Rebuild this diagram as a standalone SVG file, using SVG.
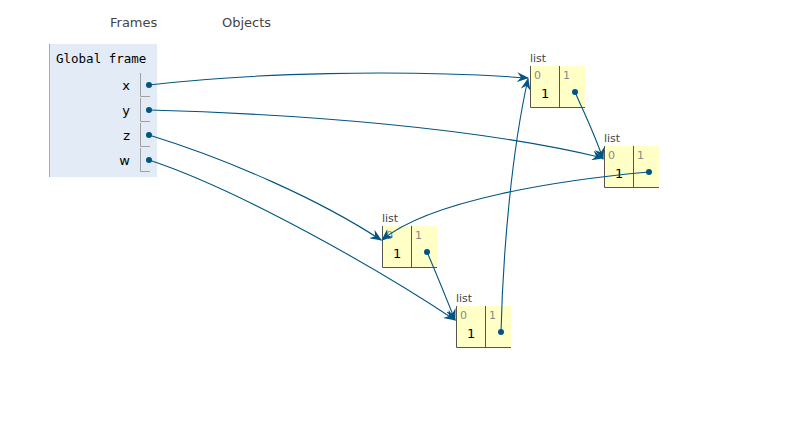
<svg xmlns="http://www.w3.org/2000/svg" width="806" height="445" viewBox="0 0 806 445">
<style>
.hdr{font-family:"DejaVu Sans",Verdana,sans-serif;font-size:13px;fill:#444}
.fname{font-family:"DejaVu Sans Mono",monospace;font-size:12.5px;fill:#000}
.var{font-family:"DejaVu Sans",Verdana,sans-serif;font-size:13px;fill:#000;text-anchor:end}
.cellb{stroke:#a0a0a0;stroke-width:1;fill:none}
.lbl{font-family:"DejaVu Sans",Verdana,sans-serif;font-size:11px;fill:#444}
.idx{font-family:"DejaVu Sans",Verdana,sans-serif;font-size:11px;fill:#888}
.val{font-family:"DejaVu Sans",Verdana,sans-serif;font-size:13px;fill:#000}
.box{fill:#ffffc6}
.bl{stroke:#555;stroke-width:1;fill:none}
.dot{fill:#005583}
.conn path{stroke:#005583;stroke-width:1.1;fill:none;marker-end:url(#ah)}
</style>
<defs>
<marker id="ah" viewBox="0 0 12 10" refX="11" refY="5" markerWidth="12" markerHeight="10" markerUnits="userSpaceOnUse" orient="auto">
<path d="M0,0 L12,5 L0,10 L4,5 z" fill="#005583"/>
</marker>
</defs>
<rect width="806" height="445" fill="#fff"/>
<text class="hdr" x="110" y="27">Frames</text>
<text class="hdr" x="222" y="27">Objects</text>
<g id="global-frame">
<rect x="49" y="44" width="108" height="133" fill="#e2ebf6"/>
<line x1="49.5" y1="44" x2="49.5" y2="177" stroke="#aaa" stroke-width="1"/>
<text class="fname" x="56" y="63">Global frame</text>
<text class="var" x="130" y="90">x</text>
<path class="cellb" d="M140.5,73 V96.5 H150"/>
<circle class="dot" cx="149" cy="85" r="3"/>
<text class="var" x="130" y="115">y</text>
<path class="cellb" d="M140.5,98 V121.5 H150"/>
<circle class="dot" cx="149" cy="110" r="3"/>
<text class="var" x="130" y="140">z</text>
<path class="cellb" d="M140.5,123 V146.5 H150"/>
<circle class="dot" cx="149" cy="135" r="3"/>
<text class="var" x="130" y="165">w</text>
<path class="cellb" d="M140.5,148 V171.5 H150"/>
<circle class="dot" cx="149" cy="160" r="3"/>
</g>
<g id="listA">
<text class="lbl" x="530" y="62">list</text>
<rect class="box" x="530" y="66" width="55" height="42"/>
<path class="bl" d="M530.5,66 V107.5 H585 M559.5,66 V108"/>
<text class="idx" x="534" y="79">0</text>
<text class="idx" x="563" y="79">1</text>
<text class="val" x="541" y="98">1</text>
<circle class="dot" cx="575" cy="92" r="3"/>
</g>
<g id="listB">
<text class="lbl" x="604" y="142">list</text>
<rect class="box" x="604" y="146" width="55" height="42"/>
<path class="bl" d="M604.5,146 V187.5 H659 M633.5,146 V188"/>
<text class="idx" x="608" y="159">0</text>
<text class="idx" x="637" y="159">1</text>
<text class="val" x="615" y="178">1</text>
<circle class="dot" cx="649" cy="172" r="3"/>
</g>
<g id="listC">
<text class="lbl" x="382" y="222">list</text>
<rect class="box" x="382" y="226" width="55" height="42"/>
<path class="bl" d="M382.5,226 V267.5 H437 M411.5,226 V268"/>
<text class="idx" x="386" y="239">0</text>
<text class="idx" x="415" y="239">1</text>
<text class="val" x="393" y="258">1</text>
<circle class="dot" cx="427" cy="252" r="3"/>
</g>
<g id="listD">
<text class="lbl" x="456" y="302">list</text>
<rect class="box" x="456" y="306" width="55" height="42"/>
<path class="bl" d="M456.5,306 V347.5 H511 M485.5,306 V348"/>
<text class="idx" x="460" y="319">0</text>
<text class="idx" x="489" y="319">1</text>
<text class="val" x="467" y="338">1</text>
<circle class="dot" cx="501" cy="332" r="3"/>
</g>
<g id="connectors" class="conn">
<path d="M149,85 C250,73 400,69 528,78"/>
<path d="M149,110 C300,114 480,128 603,158"/>
<path d="M149,135 C230,160 320,200 381,240"/>
<path d="M149,160 C240,190 380,270 455,320"/>
<path d="M575,92 C585,115 595,135 603,159"/>
<path d="M649,172 C560,180 430,200 382,240"/>
<path d="M427,252 C437,275 447,300 455,320"/>
<path d="M501,332 C503,250 512,150 528,79"/>
</g>
</svg>
